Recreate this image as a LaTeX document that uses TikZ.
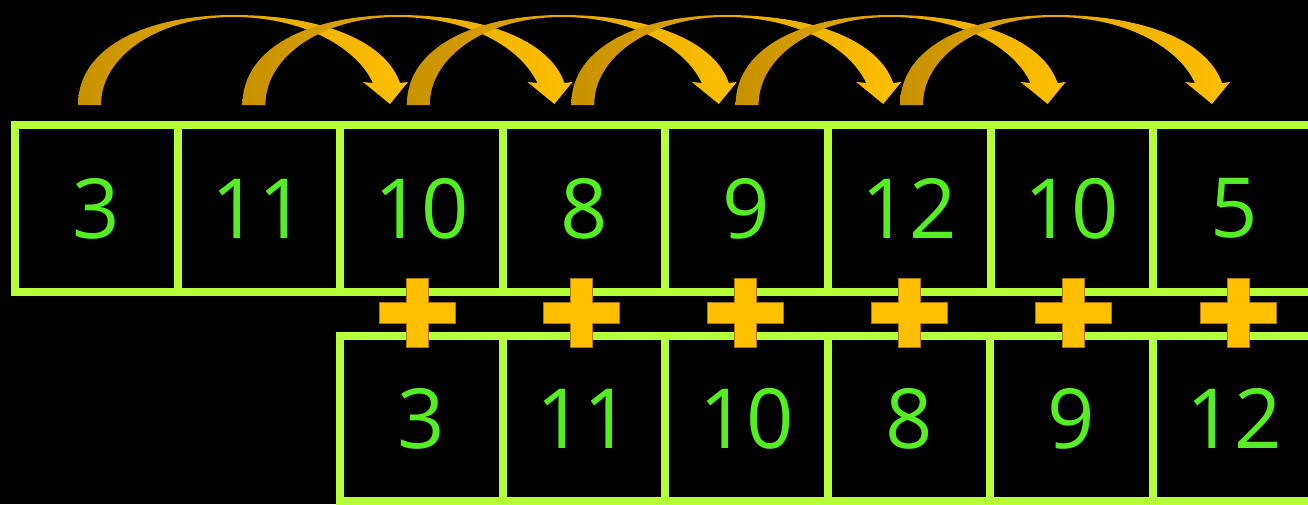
\documentclass[tikz,border=0pt]{standalone}
\usepackage{fontspec}
\setmainfont{Open Sans}
\usetikzlibrary{calc}
\definecolor{cellline}{HTML}{B4FF3A}
\definecolor{cellnum}{HTML}{55EE22}
\definecolor{hopgold}{HTML}{FFC000}
\definecolor{hopdark}{HTML}{C89200}
\definecolor{plusgold}{HTML}{FFC000}
\definecolor{plusedge}{HTML}{B07800}
\tikzset{
  cell/.style={rectangle, draw=cellline, line width=8pt, inner sep=0pt,
              minimum width=162.6pt, minimum height=167pt,
              text=cellnum, font=\fontsize{83}{96}\selectfont},
  hop/.style={left color=hopdark, right color=hopgold},
  plussign/.style={fill=plusgold, draw=plusedge, line width=0.8pt},
}
\begin{document}
\begin{tikzpicture}[x=1pt,y=-1pt]
    \useasboundingbox (0,0) rectangle (1308,504);
    \fill[black] (0,0) rectangle (1308,504);
    % input row
    \foreach \v [count=\i from 0] in {3,11,10,8,9,12,10,5}
      \node[cell] (t\i) at ({96.3+162.6*\i},208.5) {\v};
    % shifted row
    \foreach \v [count=\j from 0] in {3,11,10,8,9,12}
      \node[cell, minimum height=165pt] (b\j) at ({421.3+162.6*\j},418.5) {\v};
    % plus signs
    \foreach \j in {0,...,5} {
      \coordinate (p\j) at ({417+164.2*\j},312.5);
      \draw[plussign, shift={(p\j)}] (-38,-10.5) -- (-11,-10.5) -- (-11,-34.5)
        -- (11,-34.5) -- (11,-10.5) -- (38,-10.5) -- (38,10.5) -- (11,10.5)
        -- (11,34.5) -- (-11,34.5) -- (-11,10.5) -- (-38,10.5) -- cycle;
    }
    % curved hops, two cells ahead
    \foreach \i in {0,...,5}
      \path[hop, shift={($(t0.north west)+(164.4*\i,0)$)}]
        (67,-16) .. controls (67,-76) and (139,-106) .. (222,-106)
        .. controls (309,-106) and (374,-81) .. (389,-38)
        -- (397,-39) -- (379,-17) -- (352,-39) -- (362,-38)
        .. controls (344,-76) and (289,-104) .. (222,-104)
        .. controls (149,-104) and (90,-66) .. (90,-16) -- cycle;
  \end{tikzpicture}
\end{document}
